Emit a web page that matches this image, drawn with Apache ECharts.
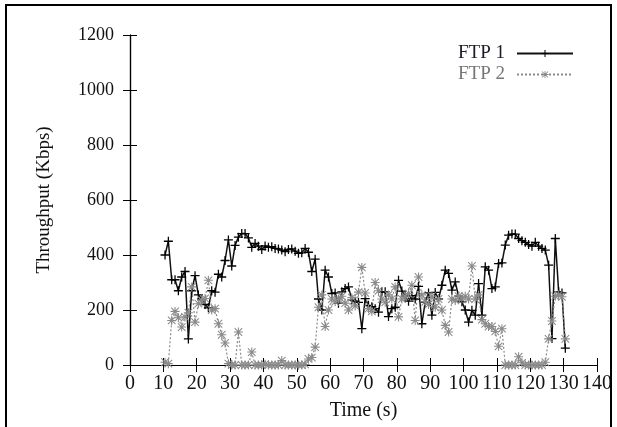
<!DOCTYPE html>
<html><head><meta charset="utf-8">
<script src="https://cdn.jsdelivr.net/npm/echarts@6/dist/echarts.min.js"></script>
<style>html,body{margin:0;padding:0;background:#fff}#c{width:617px;height:427px}</style>
</head><body><div id="c"></div>
<script>
var times = [10.5,11.5,12.5,13.5,14.5,15.5,16.5,17.5,18.5,19.5,20.5,21.5,22.5,23.5,24.5,25.5,26.5,27.5,28.5,29.5,
30.5,31.5,32.5,33.5,34.5,35.5,36.5,37.5,38.5,39.5,40.5,41.5,42.5,43.5,44.5,45.5,46.5,47.5,48.5,49.5,
50.5,51.5,52.5,53.5,54.5,55.5,56.5,57.5,58.5,59.5,60.5,61.5,62.5,63.5,64.5,65.5,66.5,67.5,68.5,69.5,
70.5,71.5,72.5,73.5,74.5,75.5,76.5,77.5,78.5,79.5,80.5,81.5,82.5,83.5,84.5,85.5,86.5,87.5,88.5,89.5,
90.5,91.5,92.5,93.5,94.5,95.5,96.5,97.5,98.5,99.5,100.5,101.5,102.5,103.5,104.5,105.5,106.5,107.5,108.5,109.5,
110.5,111.5,112.5,113.5,114.5,115.5,116.5,117.5,118.5,119.5,120.5,121.5,122.5,123.5,124.5,125.5,126.5,127.5,128.5,129.5,130.5];
var ftp1 = [400,450,310,310,270,320,340,95,270,325,255,240,220,208,270,265,330,320,380,455,
360,435,465,478,478,462,428,442,432,420,433,428,430,424,422,418,412,420,422,414,
406,408,424,410,340,385,240,200,345,320,260,262,225,266,278,284,236,232,228,132,
241,217,212,205,192,266,266,176,205,210,308,269,250,232,252,240,286,150,229,262,
181,264,240,290,345,333,272,302,250,230,200,156,199,181,296,181,357,345,278,284,
369,371,436,472,476,476,460,452,446,438,432,446,432,424,418,363,96,460,266,262,61];
var ftp2 = [10,5,162,195,172,138,175,190,284,156,223,235,242,308,200,205,150,110,80,5,
0,0,120,0,0,0,47,0,0,0,3,0,0,0,0,16,0,0,0,0,
0,0,2,22,27,65,210,255,140,200,240,230,240,250,225,200,245,215,265,355,
262,205,195,300,270,240,228,255,240,284,175,240,250,260,290,162,320,255,230,220,
250,210,240,200,144,120,240,235,250,240,250,240,360,240,255,165,150,140,140,122,
68,132,0,0,0,0,30,8,0,0,0,0,0,0,10,95,160,250,255,248,95];
var seriesNames = ['FTP 1','FTP 2'];

function pairs(xs, ys){ var out=[]; for (var i=0;i<xs.length;i++) out.push([xs[i], ys[i]]); return out; }

var plusPath = 'path://M4.3,0h1.4v4.3h4.3v1.4h-4.3v4.3h-1.4v-4.3h-4.3v-1.4h4.3z';
var starPath = 'path://M4.4,0h1.2v4.4h4.4v1.2h-4.4v4.4h-1.2v-4.4h-4.4v-1.2h4.4z M1.2,0.4L9.6,8.8L8.8,9.6L0.4,1.2z M8.8,0.4L9.6,1.2L1.2,9.6L0.4,8.8z';

var FONT = 'Liberation Serif';
var chart = echarts.init(document.getElementById('c'), null, {renderer:'canvas'});
var axisLine = {show:true, lineStyle:{color:'#000', width:1.2}};
var plain = function(v){ return String(v); };
chart.setOption({
  animation:false,
  backgroundColor:'#fff',
  grid:{left:130, right:20, top:35, bottom:62, show:false},
  legend:{
    orient:'vertical', align:'right', right:38, top:39, itemWidth:56, itemHeight:9, itemGap:2,
    textStyle:{fontFamily:FONT, fontSize:19, color:'#000', padding:[0,7,0,0]},
    data:[{name:seriesNames[0], textStyle:{color:'#1a1a2a'}},{name:seriesNames[1], textStyle:{color:'#777'}}]
  },
  xAxis:[{
    type:'value', min:0, max:140, interval:10, position:'bottom',
    name:'Time (s)', nameLocation:'middle', nameGap:36,
    nameTextStyle:{fontFamily:FONT, fontSize:20, color:'#111'},
    axisLine:axisLine, axisTick:{show:true, inside:true, length:7, lineStyle:{color:'#000'}},
    axisLabel:{fontFamily:FONT, fontSize:20, color:'#111', margin:9, formatter:plain},
    splitLine:{show:false}
  },{
    type:'value', min:0, max:140, interval:10, position:'top',
    axisLine:axisLine, axisTick:{show:true, inside:true, length:7, lineStyle:{color:'#000'}},
    axisLabel:{show:false}, splitLine:{show:false}
  }],
  yAxis:[{
    type:'value', min:0, max:1200, interval:200, position:'left',
    name:'Throughput (Kbps)', nameLocation:'middle', nameGap:76,
    nameTextStyle:{fontFamily:FONT, fontSize:19, color:'#111'},
    axisLine:axisLine, axisTick:{show:true, inside:true, length:7, lineStyle:{color:'#000'}},
    axisLabel:{fontFamily:FONT, fontSize:18, color:'#111', margin:16, formatter:plain},
    splitLine:{show:false}
  },{
    type:'value', min:0, max:1200, interval:200, position:'right',
    axisLine:axisLine, axisTick:{show:true, inside:true, length:7, lineStyle:{color:'#000'}},
    axisLabel:{show:false}, splitLine:{show:false}
  }],
  series:[{
    name:seriesNames[0], type:'line', xAxisIndex:0, yAxisIndex:0,
    data:pairs(times, ftp1), symbol:plusPath, symbolSize:9,
    lineStyle:{color:'#111', width:1.5}, itemStyle:{color:'#000'}
  },{
    name:seriesNames[1], type:'line', xAxisIndex:0, yAxisIndex:0,
    data:pairs(times, ftp2), symbol:starPath, symbolSize:9,
    lineStyle:{color:'#8a8a8a', width:1.2, type:[2,2]}, itemStyle:{color:'#8a8a8a'}
  }],
  graphic:[{
    type:'polyline', silent:true, z:100,
    shape:{points:[[6,440],[6,5],[611,5],[611,440]]},
    style:{stroke:'#000', lineWidth:2, fill:null}
  }]
});
</script></body></html>
